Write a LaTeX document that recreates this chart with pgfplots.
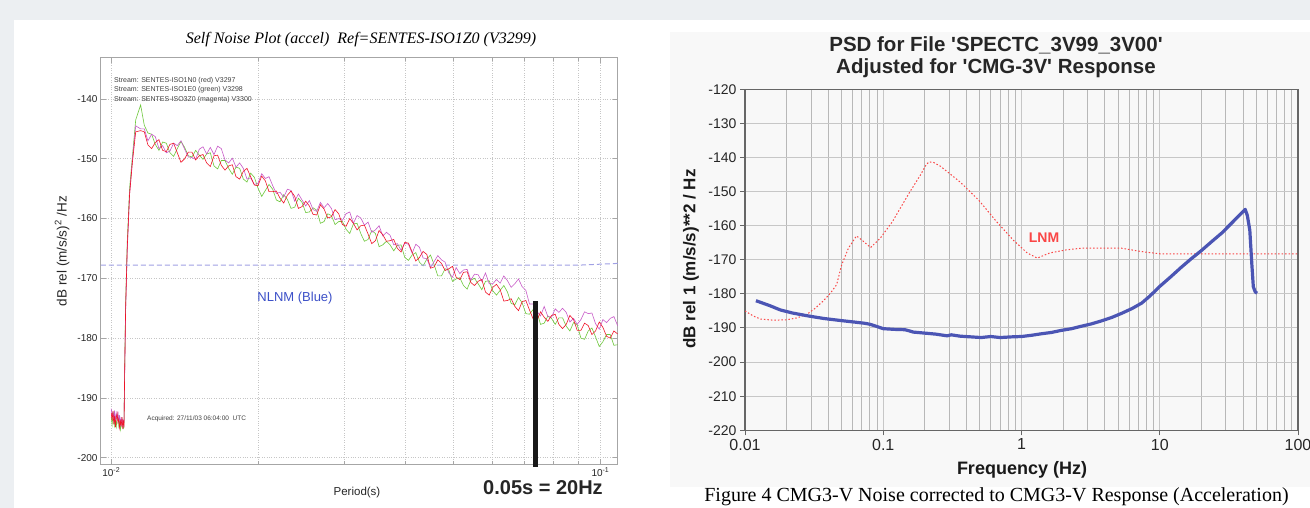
\documentclass[border=0pt]{standalone}
\usepackage{fontspec}
\setmainfont{Liberation Sans}
\newfontfamily\tnr{Liberation Serif}
\newfontfamily\arialq{Liberation Sans}
\usepackage{pgfplots}
\usepackage{pgfplotstable}
\pgfplotsset{compat=1.18}

\definecolor{bgc}{RGB}{236,239,242}
\definecolor{panel}{RGB}{248,248,248}
\definecolor{trRed}{RGB}{240,20,40}
\definecolor{trGreen}{RGB}{110,200,60}
\definecolor{trMag}{RGB}{200,90,200}
\definecolor{nlnm}{RGB}{160,160,228}
\definecolor{nlnmtxt}{RGB}{60,80,200}
\definecolor{psdBlue}{RGB}{75,85,180}
\definecolor{lnmRed}{RGB}{250,70,70}

\newcommand{\fs}[1]{\fontsize{#1}{#1}\selectfont}

% self noise traces: period (s), red, green, magenta (dB)
\pgfplotstableread{
P R G M
0.01000 -192.5 -193.2 -191.8
0.01004 -193.8 -194.5 -193.0
0.01008 -192.2 -193.0 -192.4
0.01012 -194.4 -192.5 -193.6
0.01016 -193.0 -194.6 -192.1
0.01020 -194.9 -193.6 -193.9
0.01024 -193.3 -194.8 -192.6
0.01028 -192.6 -193.4 -193.5
0.01032 -194.1 -192.9 -192.3
0.01036 -193.5 -194.7 -194.2
0.01040 -195.0 -193.8 -192.9
0.01044 -193.9 -195.3 -194.4
0.01048 -194.6 -194.3 -193.2
0.01052 -193.2 -193.6 -194.8
0.01056 -195.2 -194.9 -193.5
0.01059 -194.0 -195.1 -194.6
0.01062 -194.5 -194.0 -193.8
0.01065 -186.0 -185.5 -186.5
0.01070 -175.0 -174.0 -175.5
0.01078 -165.0 -164.0 -165.5
0.01090 -156.0 -155.0 -156.0
0.01105 -150.5 -149.5 -150.0
0.01122 -145.5 -143.5 -144.5
0.011482 -145.3 -141.0 -145.0
0.011682 -145.5 -144.4 -145.0
0.011885 -147.7 -145.7 -147.0
0.012092 -148.3 -145.9 -145.9
0.012303 -147.3 -147.6 -146.3
0.012517 -146.8 -148.6 -148.3
0.012735 -148.6 -147.2 -147.8
0.012957 -148.8 -147.4 -149.0
0.013183 -147.6 -149.0 -148.7
0.013413 -147.4 -149.6 -147.4
0.013646 -149.0 -148.3 -147.8
0.013884 -150.6 -147.1 -147.0
0.014125 -150.0 -148.1 -148.4
0.014371 -148.9 -149.5 -149.7
0.014622 -148.9 -149.7 -149.8
0.014877 -150.2 -148.6 -150.1
0.015136 -149.5 -149.4 -148.4
0.015400 -149.3 -150.1 -148.0
0.015668 -150.7 -149.2 -149.2
0.015941 -151.3 -149.0 -148.1
0.016218 -149.5 -151.2 -149.3
0.016500 -149.4 -151.7 -147.9
0.016788 -151.1 -150.3 -148.3
0.017080 -151.9 -150.3 -150.2
0.017378 -151.2 -151.6 -150.7
0.017681 -151.0 -152.6 -149.9
0.017989 -153.0 -151.4 -151.4
0.018302 -153.4 -151.6 -150.7
0.018621 -152.1 -153.4 -151.6
0.018945 -151.6 -153.9 -153.4
0.019275 -153.0 -152.4 -153.2
0.019611 -154.4 -153.1 -154.3
0.019953 -154.5 -154.9 -154.1
0.020301 -152.9 -156.3 -152.5
0.020654 -153.7 -155.3 -153.3
0.021014 -155.5 -154.3 -153.0
0.021380 -155.5 -155.1 -154.5
0.021752 -155.4 -156.9 -155.8
0.022131 -156.6 -157.2 -155.6
0.022516 -157.4 -156.0 -156.4
0.022909 -156.1 -156.8 -155.1
0.023308 -155.4 -158.3 -155.3
0.023714 -156.3 -158.1 -157.1
0.024127 -158.3 -156.6 -155.9
0.024547 -158.0 -157.3 -156.9
0.024974 -157.1 -159.0 -157.9
0.025410 -157.9 -158.9 -157.0
0.025852 -159.3 -158.2 -158.5
0.026303 -159.4 -158.6 -158.8
0.026761 -157.7 -160.8 -157.3
0.027227 -158.4 -160.5 -158.2
0.027701 -159.9 -159.2 -157.5
0.028184 -159.7 -159.5 -158.3
0.028675 -158.5 -161.0 -160.2
0.029174 -159.2 -160.5 -160.0
0.029682 -161.0 -160.5 -160.3
0.030200 -161.3 -161.8 -159.2
0.030726 -160.0 -162.5 -158.9
0.031261 -160.8 -160.9 -160.8
0.031805 -161.9 -160.8 -159.5
0.032359 -161.2 -162.5 -159.9
0.032923 -161.1 -163.8 -161.1
0.033497 -162.6 -163.5 -160.6
0.034080 -164.2 -162.0 -162.3
0.034674 -163.7 -162.5 -161.9
0.035278 -162.0 -164.7 -161.2
0.035892 -162.7 -164.4 -162.9
0.036517 -163.8 -163.8 -162.3
0.037154 -163.7 -164.4 -162.8
0.037801 -163.5 -165.4 -164.4
0.038459 -165.0 -164.5 -164.2
0.039129 -165.6 -164.4 -165.3
0.039811 -164.0 -166.5 -164.1
0.040504 -164.1 -167.0 -164.3
0.041210 -165.6 -166.1 -165.8
0.041928 -167.1 -165.7 -164.3
0.042658 -166.5 -167.3 -164.8
0.043401 -165.5 -167.9 -166.6
0.044157 -166.0 -166.8 -166.7
0.044926 -168.3 -166.1 -168.2
0.045709 -168.1 -167.7 -167.2
0.046505 -166.9 -169.6 -166.2
0.047315 -167.5 -169.6 -166.9
0.048139 -168.7 -168.4 -167.3
0.048978 -168.4 -168.6 -169.1
0.049831 -168.0 -170.5 -169.8
0.050699 -169.8 -170.1 -168.2
0.051582 -170.2 -169.9 -169.2
0.052481 -169.0 -171.2 -168.6
0.053395 -168.9 -171.8 -168.5
0.054325 -170.7 -170.3 -170.3
0.055271 -171.2 -170.0 -169.3
0.056234 -170.5 -170.9 -169.4
0.057213 -170.2 -171.9 -170.5
0.058210 -172.3 -170.5 -169.1
0.059224 -172.8 -170.4 -170.9
0.060256 -171.5 -172.1 -170.9
0.061305 -171.0 -172.8 -170.2
0.062373 -171.9 -172.0 -170.8
0.063459 -173.8 -171.2 -169.6
0.064565 -173.7 -172.3 -170.4
0.065689 -173.4 -174.2 -171.5
0.066834 -174.7 -174.4 -170.9
0.067998 -175.4 -173.2 -170.1
0.069183 -173.9 -174.1 -171.4
0.070388 -173.7 -175.9 -172.0
0.071614 -175.3 -176.0 -174.3
0.072862 -176.8 -175.2 -174.3
0.074131 -177.1 -175.5 -175.5
0.075423 -175.6 -177.7 -176.3
0.076736 -176.5 -177.5 -174.7
0.078072 -177.2 -176.3 -176.4
0.079433 -176.2 -176.7 -176.5
0.080816 -176.0 -177.7 -175.1
0.082224 -177.7 -176.6 -175.7
0.083656 -178.4 -176.6 -175.0
0.085114 -177.7 -178.0 -175.7
0.086597 -176.2 -178.8 -177.3
0.088105 -176.9 -177.4 -176.7
0.089640 -178.7 -177.8 -177.7
0.091201 -178.7 -180.0 -176.9
0.092789 -177.5 -180.2 -175.6
0.094406 -177.9 -178.8 -175.9
0.096050 -179.4 -178.3 -175.8
0.097724 -178.8 -179.8 -177.6
0.099426 -177.3 -181.4 -178.5
0.101158 -178.2 -180.6 -176.9
0.102920 -179.7 -179.4 -177.4
0.104713 -180.0 -179.4 -176.7
0.106537 -178.8 -181.2 -176.4
0.108393 -179.3 -181.1 -177.9
}\selfnoise

% CMG-3V psd, frequency (Hz) vs dB
\pgfplotstableread{
f v
0.012 -182.0
0.0128 -182.4
0.015 -183.4
0.018 -184.7
0.022 -185.6
0.029 -186.5
0.037 -187.2
0.049 -187.8
0.06 -188.2
0.073 -188.6
0.08 -188.9
0.089 -189.5
0.1 -190.2
0.12 -190.4
0.143 -190.5
0.153 -190.8
0.165 -191.2
0.2 -191.5
0.24 -191.8
0.29 -192.3
0.31 -192.0
0.36 -192.4
0.43 -192.6
0.51 -192.8
0.6 -192.5
0.7 -192.8
0.85 -192.6
1.0 -192.5
1.2 -192.1
1.39 -191.7
1.65 -191.3
1.94 -190.7
2.3 -190.2
2.7 -189.5
3.2 -188.8
3.8 -187.9
4.5 -186.9
5.3 -185.7
6.3 -184.3
7.4 -182.7
8.5 -180.6
10 -177.8
12 -175.0
14.3 -172.2
17 -169.6
20 -167.3
24 -164.5
28 -162.2
33 -159.3
38 -156.8
41.5 -155.2
43 -157.0
44.8 -161.3
46.3 -171.0
47.5 -177.9
49 -179.4
50.6 -179.8
}\psdblue

% low noise model
\pgfplotstableread{
f v
0.01 -185.0
0.0115 -186.5
0.013 -187.4
0.016 -187.7
0.02 -187.6
0.024 -187.0
0.028 -186.0
0.032 -184.3
0.037 -182.0
0.042 -179.5
0.046 -177.3
0.05 -171.5
0.056 -166.6
0.064 -163.0
0.07 -164.2
0.081 -166.4
0.095 -163.7
0.117 -158.7
0.153 -150.6
0.186 -145.1
0.205 -142.0
0.215 -141.3
0.23 -141.4
0.26 -142.6
0.36 -147.2
0.49 -152.5
0.66 -158.8
0.87 -164.2
1.1 -168.0
1.3 -169.5
1.6 -168.0
2.1 -167.1
2.7 -166.6
5.3 -166.6
7.4 -167.6
10.3 -168.3
100 -168.3
}\lnm

\begin{document}
\begin{tikzpicture}
\path[use as bounding box] (0pt,0pt) rectangle (1310pt,508pt);
\fill[bgc] (0pt,0pt) rectangle (1310pt,508pt);
\fill[white] (14pt,0pt) rectangle (1310pt,488pt);
\fill[panel] (670pt,21pt) rectangle (1310pt,476pt);

% ---- left: self noise plot
\begin{axis}[
  at={(101pt,43.7pt)}, anchor=south west, scale only axis,
  width=517pt, height=406.6pt,
  xmode=log, xmin=0.009528, xmax=0.1086,
  ymin=-201.1, ymax=-133.1,
  xtick={0.01,0.1},
  xticklabels={10\textsuperscript{-2},10\textsuperscript{-1}},
  minor xtick={0.02,0.03,0.04,0.05,0.06,0.07,0.08,0.09},
  ytick={-200,-190,-180,-170,-160,-150,-140},
  /pgf/number format/assume math mode=true,
  grid=both,
  major grid style={gray!45, dotted, line width=0.7pt},
  minor grid style={gray!45, dotted, line width=0.7pt},
  axis line style={gray!70, line width=1pt},
  tick style={gray!70, line width=0.7pt},
  tick align=inside, major tick length=5pt, minor tick length=3pt,
  tick label style={font=\fs{10}, text=black!85},
  clip=false,
]
\addplot[trGreen, line width=0.6pt] table[x=P, y=G] {\selfnoise};
\addplot[trMag, line width=0.6pt] table[x=P, y=M] {\selfnoise};
\addplot[trRed, line width=0.6pt] table[x=P, y=R] {\selfnoise};
\addplot[nlnm, line width=1pt, dash pattern=on 5pt off 3pt]
  coordinates {(0.009528,-167.8) (0.09,-167.8) (0.1086,-167.5)};
\addplot[black!90, line width=5pt] coordinates {(0.0738,-173.8) (0.0738,-201.5)};
\end{axis}

\node[font=\tnr\itshape\fs{16}] at (361pt,468pt) {Self Noise Plot (accel)\ \ Ref=SENTES-ISO1Z0 (V3299)};
\begin{scope}[every node/.style={anchor=west, font=\fs{7}, text=black!75, inner sep=0pt}]
\node at (114pt,427.3pt) {Stream: SENTES-ISO1N0 (red) V3297};
\node at (114pt,418.0pt) {Stream: SENTES-ISO1E0 (green) V3298};
\node at (114pt,408.7pt) {Stream: SENTES-ISO3Z0 (magenta) V3300};
\node[font=\fs{6.5}] at (147pt,88.7pt) {Acquired: 27/11/03 06:04:00\ \ UTC};
\end{scope}
\node[font=\fs{13}, text=nlnmtxt] at (295pt,210pt) {NLNM (Blue)};
\node[rotate=90, font=\fs{13.5}, text=black!85] at (62pt,257pt) {dB rel (m/s/s)\textsuperscript{2} /Hz};
\node[font=\fs{11.5}, text=black!85] at (357pt,15pt) {Period(s)};
\node[font=\bfseries\fs{20}, text=black!85] at (543pt,20pt) {0.05s = 20Hz};

% ---- right: PSD plot
\begin{axis}[
  at={(745pt,77.7pt)}, anchor=south west, scale only axis,
  width=553pt, height=341pt,
  xmode=log, xmin=0.01, xmax=100,
  ymin=-220, ymax=-120,
  xtick={0.01,0.1,1,10,100},
  xticklabels={0.01,0.1,1,10,100},
  minor xtick={0.02,0.03,0.04,0.05,0.06,0.07,0.08,0.09,
               0.2,0.3,0.4,0.5,0.6,0.7,0.8,0.9,
               2,3,4,5,6,7,8,9,20,30,40,50,60,70,80,90},
  ytick={-220,-210,-200,-190,-180,-170,-160,-150,-140,-130,-120},
  /pgf/number format/assume math mode=true,
  grid=both,
  major grid style={black!22, line width=1pt},
  minor grid style={black!28, line width=0.8pt},
  axis line style={black!60, line width=1.2pt},
  tick style={black!60, line width=1pt},
  tick align=outside, tick pos=left,
  major tick length=5pt, minor tick length=0pt,
  yticklabel style={font=\fs{14}, text=black!85},
  xticklabel style={font=\fs{16}, text=black!85},
]
\addplot[lnmRed, line width=1pt, dash pattern=on 1.5pt off 2pt] table[x=f, y=v] {\lnm};
\addplot[psdBlue, line width=3.2pt, line join=round] table[x=f, y=v] {\psdblue};
\end{axis}

\node[font=\arialq\bfseries\fs{20.5}, text=black!85] at (996pt,463pt) {PSD for File 'SPECTC\_3V99\_3V00'};
\node[font=\arialq\bfseries\fs{20.5}, text=black!85] at (996pt,440pt) {Adjusted for 'CMG-3V' Response};
\node[font=\bfseries\fs{14}, text=lnmRed] at (1044pt,270pt) {LNM};
\node[rotate=90, font=\bfseries\fs{17}, text=black!90] at (691pt,249pt) {dB rel 1 (m/s/s)**2 / Hz};
\node[font=\bfseries\fs{18}, text=black!90] at (1022pt,38pt) {Frequency (Hz)};
\node[font=\tnr\fs{20}] at (996.5pt,11pt) {Figure 4 CMG3-V Noise corrected to CMG3-V Response (Acceleration)};
\end{tikzpicture}
\end{document}
